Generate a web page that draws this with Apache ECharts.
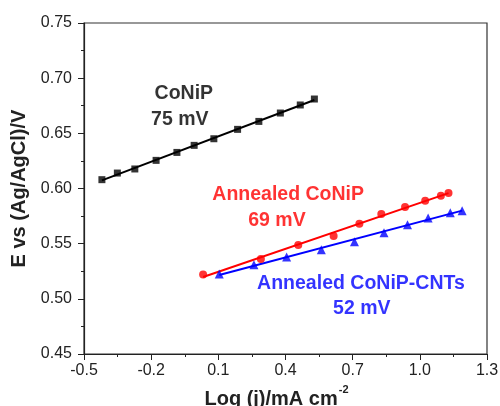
<!DOCTYPE html>
<html>
<head>
<meta charset="utf-8">
<script src="https://cdn.jsdelivr.net/npm/echarts@6/dist/echarts.min.js"></script>
<style>
html,body{margin:0;padding:0;background:#fff;}
#chart{width:500px;height:406px;}
</style>
</head>
<body>
<div id="chart"></div>
<script>
// ---- data ----
const conipX = [-0.420, -0.351, -0.273, -0.178, -0.085, -0.008, 0.080, 0.186, 0.281, 0.377, 0.466, 0.529];
const conipY = [0.6080, 0.6140, 0.6177, 0.6255, 0.6327, 0.6391, 0.6451, 0.6536, 0.6608, 0.6684, 0.6757, 0.6811];

const annealedX = [0.032, 0.290, 0.457, 0.615, 0.730, 0.828, 0.934, 1.024, 1.094, 1.128];
const annealedY = [0.5221, 0.5361, 0.5488, 0.5569, 0.5681, 0.5769, 0.5832, 0.5889, 0.5935, 0.5959];

const cntX = [0.104, 0.259, 0.405, 0.560, 0.708, 0.840, 0.945, 1.037, 1.136, 1.189];
const cntY = [0.5225, 0.5309, 0.5379, 0.5445, 0.5518, 0.5599, 0.5672, 0.5733, 0.5781, 0.5799];

const xTicks = [-0.5, -0.2, 0.1, 0.4, 0.7, 1.0, 1.3];
const yTicks = [0.45, 0.50, 0.55, 0.60, 0.65, 0.70, 0.75];

const seriesNames = ['CoNiP', 'Annealed CoNiP', 'Annealed CoNiP-CNTs'];
const slopeLabels = ['75 mV', '69 mV', '52 mV'];
const colors = ['#000000', '#ff0000', '#0000ff'];

// annotation anchor points (data coordinates)
const nameAnchors = [[-0.054, 0.686], [0.412, 0.594], [0.737, 0.514]];
const slopeAnchors = [[-0.072, 0.6624], [0.362, 0.5713], [0.741, 0.491]];

// ---- helpers ----
function pairs(xs, ys){ return xs.map((x,i)=>[x, ys[i]]); }
function fitLine(xs, ys){
  const n = xs.length;
  const mx = xs.reduce((a,b)=>a+b,0)/n, my = ys.reduce((a,b)=>a+b,0)/n;
  let sxy=0, sxx=0;
  for(let i=0;i<n;i++){ sxy+=(xs[i]-mx)*(ys[i]-my); sxx+=(xs[i]-mx)*(xs[i]-mx); }
  const b = sxy/sxx, a = my - b*mx;
  const x0 = Math.min(...xs), x1 = Math.max(...xs);
  return [[x0, a+b*x0],[x1, a+b*x1]];
}

const sets = [
  {x: conipX, y: conipY, symbol: 'rect', size: 7},
  {x: annealedX, y: annealedY, symbol: 'circle', size: 8},
  {x: cntX, y: cntY, symbol: 'triangle', size: 9}
];

const font = 'Liberation Sans, Arial, sans-serif';
const series = [];
sets.forEach((s, i) => {
  series.push({
    name: seriesNames[i] + ' fit', type: 'line', data: fitLine(s.x, s.y),
    showSymbol: false, lineStyle: {color: colors[i], width: 2}, silent: true, z: 2
  });
  series.push({
    name: seriesNames[i], type: 'scatter', data: pairs(s.x, s.y),
    symbol: s.symbol, symbolSize: s.size, itemStyle: {color: colors[i]}, z: 3
  });
  series.push({
    type: 'scatter', data: [nameAnchors[i]], symbolSize: 0, silent: true,
    label: {show: true, position: 'inside', formatter: seriesNames[i], color: colors[i],
      fontFamily: font, fontWeight: 'bold', fontSize: 19.5}
  });
  series.push({
    type: 'scatter', data: [slopeAnchors[i]], symbolSize: 0, silent: true,
    label: {show: true, position: 'inside', formatter: slopeLabels[i], color: colors[i],
      fontFamily: font, fontWeight: 'bold', fontSize: 19.5}
  });
});

const chart = echarts.init(document.getElementById('chart'), null, {renderer: 'canvas'});
chart.setOption({
  animation: false,
  backgroundColor: '#ffffff',
  grid: {left: 84, right: 13, top: 23, bottom: 52, show: true, borderColor: '#333', borderWidth: 1.2,
    containLabel: false, outerBoundsMode: 'none'},
  xAxis: {
    type: 'value', min: xTicks[0], max: xTicks[xTicks.length-1], interval: 0.3,
    axisLine: {show: true, onZero: false, lineStyle: {color: '#222', width: 1.2}},
    axisTick: {show: true, inside: false, length: 6, lineStyle: {color: '#222'}},
    minorTick: {show: true, splitNumber: 2, length: 3, lineStyle: {color: '#222'}},
    splitLine: {show: false},
    axisLabel: {margin: 9, color: '#222', fontFamily: font, fontSize: 16,
      formatter: v => v.toFixed(1)},
    name: '{a|Log (j)/mA cm}{b|-2}', nameLocation: 'middle', nameGap: 30,
    nameTextStyle: {padding: [0, 18, 0, 0], rich: {
      a: {fontFamily: font, fontWeight: 'bold', fontSize: 20, color: '#222', verticalAlign: 'bottom'},
      b: {fontFamily: font, fontWeight: 'bold', fontSize: 11, color: '#222', verticalAlign: 'top', padding: [0,0,14,1]}
    }}
  },
  yAxis: {
    type: 'value', min: yTicks[0], max: yTicks[yTicks.length-1], interval: 0.05,
    axisLine: {show: true, onZero: false, lineStyle: {color: '#222', width: 1.2}},
    axisTick: {show: true, inside: false, length: 6, lineStyle: {color: '#222'}},
    minorTick: {show: true, splitNumber: 2, length: 3, lineStyle: {color: '#222'}},
    splitLine: {show: false},
    axisLabel: {margin: 12, color: '#222', fontFamily: font, fontSize: 16,
      formatter: v => v.toFixed(2)},
    name: 'E vs (Ag/AgCl)/V', nameLocation: 'middle', nameGap: 54, nameRotate: 90,
    nameTextStyle: {fontFamily: font, fontWeight: 'bold', fontSize: 20, color: '#222'}
  },
  series: series
});
</script>
</body>
</html>
